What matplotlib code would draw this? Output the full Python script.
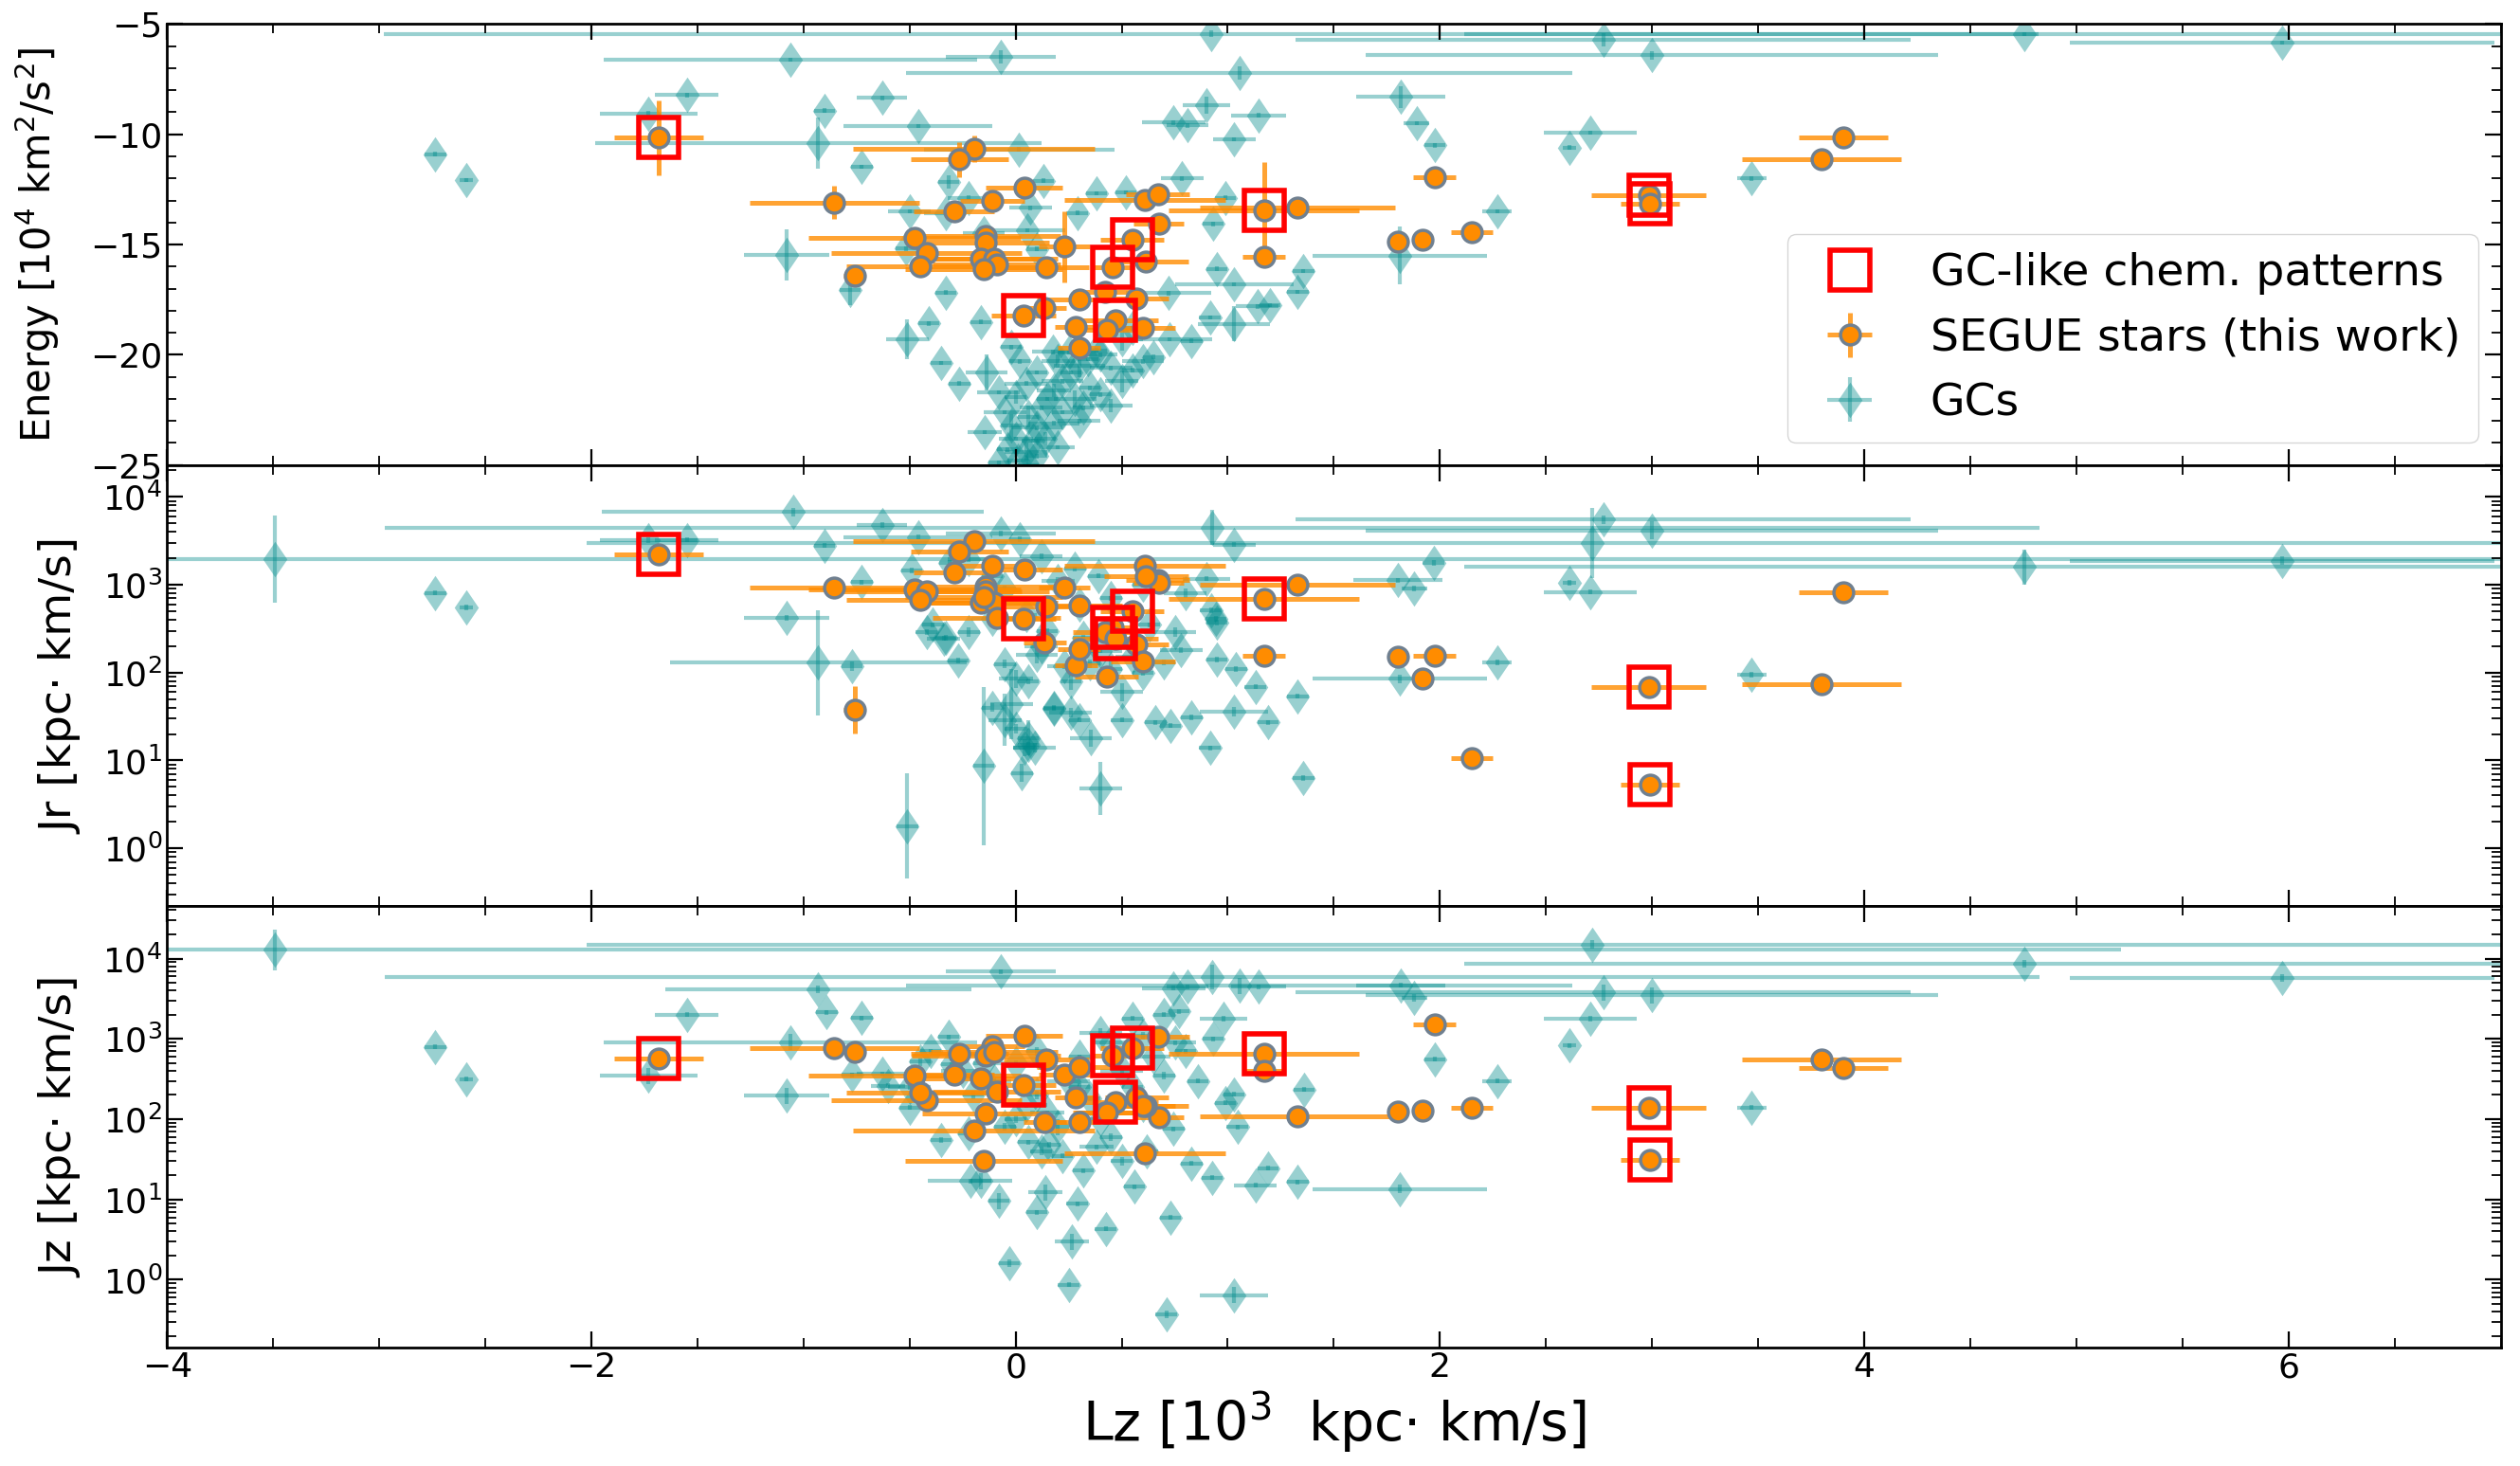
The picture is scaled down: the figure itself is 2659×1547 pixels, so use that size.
import matplotlib
matplotlib.use('Agg')
import matplotlib.pyplot as plt
import numpy as np
from matplotlib.ticker import MultipleLocator, LogLocator

# ---- SEGUE stars (this work) ----
# Lz in 10^3 kpc km/s, energy in 10^4 km^2/s^2, actions in kpc km/s
star_lz = [-1.684, -0.196, -0.265, 0.04, -0.856, -0.11, -0.29, 0.61, 0.67, 1.17,
           1.33, 0.674, -0.475, -0.14, -0.14, -0.42, -0.45, -0.165, -0.10, -0.09,
           -0.15, 0.145, 0.23, 0.55, 0.615, 0.458, -0.76, 1.17, 0.42, 0.30,
           0.57, 0.137, 0.037, 0.47, 0.285, 0.43, 0.60, 0.30, 1.974, 1.80,
           1.917, 2.15, 2.985, 2.99, 3.90, 3.80]
star_lz_err = [0.21, 0.57, 0.23, 0.18, 0.40, 0.15, 0.19, 0.38, 0.15, 0.45,
               0.46, 0.12, 0.50, 0.35, 0.30, 0.45, 0.35, 0.30, 0.30, 0.30,
               0.37, 0.20, 0.12, 0.15, 0.20, 0.10, 0.05, 0.10, 0.15, 0.20,
               0.15, 0.10, 0.15, 0.20, 0.10, 0.15, 0.15, 0.10, 0.10, 0.02,
               0.02, 0.10, 0.27, 0.14, 0.21, 0.375]
star_E = [-10.16, -10.65, -11.15, -12.4, -13.09, -13.0, -13.5, -12.96, -12.7, -13.44,
          -13.34, -14.06, -14.7, -14.63, -14.9, -15.4, -15.97, -15.64, -15.64, -15.9,
          -16.1, -16.04, -15.1, -14.8, -15.78, -16.04, -16.43, -15.57, -17.14, -17.5,
          -17.43, -17.86, -18.22, -18.43, -18.75, -18.86, -18.8, -19.68, -11.94, -14.85,
          -14.78, -14.43, -12.77, -13.13, -10.12, -11.12]
star_E_err = [1.7, 0.6, 0.8, 0.3, 0.75, 0.3, 0.4, 0.2, 0.2, 2.2,
              0.2, 0.2, 0.3, 0.4, 0.3, 0.3, 0.2, 0.2, 0.2, 0.2,
              0.2, 0.2, 1.6, 0.3, 0.2, 0.2, 0.2, 0.2, 0.2, 0.2,
              0.2, 0.2, 0.2, 0.2, 0.2, 0.2, 0.2, 0.2, 0.2, 0.1,
              0.1, 0.1, 0.2, 0.2, 0.2, 0.2]
star_jr = [2190, 3100, 2400, 1500, 920, 1640, 1370, 1660, 1130, 690,
           1000, 1050, 890, 960, 850, 850, 665, 630, 630, 420,
           720, 560, 920, 500, 1250, 330, 38, 157, 290, 575,
           210, 218, 410, 245, 120, 89, 135, 185, 155, 152,
           85, 10.5, 68, 5.3, 815, 74]
star_jr_dex = [0.06, 0.03, 0.03, 0.03, 0.03, 0.03, 0.03, 0.03, 0.03, 0.05,
               0.03, 0.03, 0.03, 0.03, 0.03, 0.03, 0.03, 0.03, 0.03, 0.03,
               0.03, 0.03, 0.03, 0.03, 0.03, 0.03, 0.27, 0.03, 0.03, 0.03,
               0.03, 0.03, 0.03, 0.03, 0.03, 0.03, 0.03, 0.03, 0.03, 0.03,
               0.03, 0.05, 0.05, 0.08, 0.03, 0.03]
star_jz = [575, 73, 645, 1090, 763, 810, 354, 38, 1070, 645,
           108, 105, 350, 620, 117, 170, 213, 325, 680, 218,
           30, 550, 363, 763, 145, 620, 680, 400, 120, 445,
           186, 91, 263, 162, 186, 120, 145, 91, 1510, 124,
           126, 138, 138, 31, 430, 550]
star_jz_dex = [0.06, 0.03, 0.06, 0.03, 0.03, 0.03, 0.03, 0.03, 0.03, 0.12,
               0.03, 0.03, 0.03, 0.03, 0.03, 0.03, 0.03, 0.03, 0.03, 0.03,
               0.03, 0.03, 0.03, 0.03, 0.03, 0.03, 0.03, 0.1, 0.03, 0.03,
               0.03, 0.03, 0.03, 0.03, 0.03, 0.03, 0.03, 0.03, 0.03, 0.03,
               0.03, 0.03, 0.03, 0.08, 0.03, 0.03]
# stars with GC-like chemical patterns
gclike_idx = [0, 9, 23, 25, 32, 33, 42, 43]

# ---- Globular clusters: energy panel ----
gc_e_lz = [0.92, 4.756, 5.97, 2.77, 3.0, 1.055, -1.06, -0.07, -1.55, -1.73,
           -0.9, -0.63, -0.46, -0.93, -0.725, 0.017, 0.90, 0.745, 0.81, 1.146,
           1.03, 1.815, 1.89, 1.975, 2.71, 2.61, 3.47, -2.735, -2.59, 2.27,
           1.81, -1.08, -0.78, -0.316, -0.22, -0.5, -0.33, 0.07, 0.13, 0.29,
           0.38, 0.52, 0.785, 0.99, 0.93, 0.054, -0.515, -0.33, -0.41, -0.51,
           0.1, 0.95, 1.03, 1.357, 1.33, 1.14, 1.2, 0.72, 0.916, 1.03,
           0.83, 0.725, -0.165, -0.35, -0.265, -0.137, -0.02, 0.176, 0.38, 0.5,
           0.6, 0.55, -0.15,
           -0.146, 0.0, -0.05, -0.02, 0.0, -0.04, 0.01, 0.05, 0.08, 0.1,
           0.06, 0.12, 0.15, 0.18, 0.22, 0.26, 0.3, 0.34, 0.4, 0.45,
           0.35, 0.28, 0.22, 0.18, 0.14, 0.1, 0.3, 0.4, 0.5, 0.55,
           0.05, 0.1, 0.2, 0.25, -0.08, 0.02, 0.65, 0.45, 0.32, 0.2,
           -0.08, 0.06]
gc_e_lz_err = [3.9, 2.64, 1.0, 1.45, 1.35, 1.57, 0.88, 0.26, 0.15, 0.23,
               0.05, 0.12, 0.35, 1.05, 0.05, 0.45, 0.11, 0.15, 0.1, 0.13,
               0.1, 0.21, 0.06, 0.05, 0.22, 0.03, 0.07, 0.05, 0.03, 0.07,
               0.41, 0.2, 0.05, 0.05, 0.1, 0.1, 0.1, 0.1, 0.05, 0.05,
               0.05, 0.05, 0.1, 0.05, 0.05, 0.18, 0.05, 0.05, 0.05, 0.1,
               0.05, 0.05, 0.28, 0.05, 0.05, 0.1, 0.05, 0.2, 0.05, 0.17,
               0.05, 0.2, 0.05, 0.05, 0.05, 0.1, 0.05, 0.1, 0.05, 0.1,
               0.1, 0.1, 0.1,
               0.08, 0.05, 0.1, 0.05, 0.08, 0.05, 0.05, 0.1, 0.05, 0.12,
               0.05, 0.1, 0.05, 0.08, 0.1, 0.05, 0.12, 0.05, 0.08, 0.1,
               0.05, 0.1, 0.05, 0.12, 0.05, 0.05, 0.1, 0.05, 0.08, 0.05,
               0.1, 0.05, 0.08, 0.05, 0.1, 0.05, 0.05, 0.1, 0.05, 0.08,
               0.05, 0.05]
gc_e = [-5.45, -5.46, -5.85, -5.7, -6.42, -7.2, -6.62, -6.5, -8.22, -9.05,
        -8.92, -8.35, -9.63, -10.4, -11.47, -10.68, -8.68, -9.47, -9.6, -9.14,
        -10.23, -8.3, -9.49, -10.5, -9.93, -10.6, -12.0, -10.9, -12.07, -13.5,
        -15.5, -15.46, -17.04, -12.17, -12.87, -13.5, -13.56, -13.34, -12.1, -13.56,
        -12.67, -12.63, -12.0, -12.87, -14.06, -14.35, -15.19, -17.17, -18.58, -19.29,
        -15.2, -16.1, -16.8, -16.2, -17.14, -17.8, -17.75, -17.2, -18.3, -18.6,
        -19.37, -19.3, -18.5, -20.37, -21.3, -20.8, -19.65, -19.87, -19.8, -19.3,
        -20.3, -18.8, -14.5,
        -23.5, -21.9, -22.6, -23.2, -23.8, -24.3, -24.8, -24.4, -23.9, -23.3,
        -22.8, -22.4, -22.0, -21.6, -21.2, -20.8, -20.5, -20.2, -20.0, -20.6,
        -21.5, -22.0, -22.6, -23.1, -23.8, -24.6, -23.0, -21.8, -21.2, -20.7,
        -21.3, -20.8, -20.3, -19.9, -21.7, -20.3, -20.1, -22.3, -22.4, -24.2,
        -24.9, -25.0]
gc_e_err = [0.15, 0.1, 0.1, 0.3, 0.2, 0.3, 0.1, 0.3, 0.1, 0.1,
            0.1, 0.1, 0.1, 1.15, 0.1, 0.1, 0.4, 0.1, 0.1, 0.1,
            0.1, 0.5, 0.1, 0.1, 0.1, 0.1, 0.1, 0.1, 0.1, 0.1,
            1.3, 1.15, 0.7, 0.3, 0.1, 0.1, 0.1, 0.1, 0.1, 0.1,
            0.1, 0.1, 0.1, 0.1, 0.1, 0.1, 0.1, 0.1, 0.1, 0.9,
            0.1, 0.1, 0.1, 0.1, 0.1, 0.1, 0.1, 0.1, 0.1, 0.8,
            0.1, 0.1, 0.1, 0.1, 0.1, 0.8, 0.1, 0.1, 0.1, 0.5,
            0.1, 0.1, 0.1,
            0.1, 0.3, 0.1, 0.5, 0.1, 0.1, 0.1, 0.4, 0.1, 0.1,
            0.5, 0.1, 0.1, 0.3, 0.1, 0.1, 0.5, 0.1, 0.1, 0.1,
            0.1, 0.4, 0.1, 0.1, 0.3, 0.1, 0.1, 0.1, 0.5, 0.1,
            0.1, 0.1, 0.3, 0.1, 0.1, 0.1, 0.1, 0.3, 0.1, 0.1,
            0.1, 0.1]

# ---- Globular clusters: Jr panel ----
gc_r_lz = [-3.49, -1.05, -1.73, -1.55, -0.63, -0.46, -0.07, 0.02, 0.925, 1.03,
           -0.9, 2.77, 3.0, 2.72, 4.756, 5.97, 2.61, 2.71, 3.47, -2.735,
           -2.59, -1.08, -0.93, -0.77, -0.725, -0.49, -0.31, -0.22, -0.11, 0.12,
           0.28, 0.39, 0.9, 1.8, 1.88, 1.97, 2.27, 1.81, -0.51, -0.15,
           0.4, 0.916, 1.357, 1.33, 1.19, 1.03, 0.83, 0.73, 0.66, 0.5,
           0.355, 0.3, 0.18, 0.04, 0.06, -0.27, -0.42, -0.33, 0.945, 1.13,
           1.04, 0.95, 0.78,
           -0.05, 0.0, 0.06, -0.02, -0.11, -0.05, 0.0, 0.06, 0.09, 0.03,
           0.18, 0.26, 0.26, 0.23, 0.35, 0.4, 0.45, 0.63, 0.75, 0.92,
           0.95, 0.55, 0.6, 0.5, 0.7, 0.12, 0.15, 0.05, -0.39, -0.34,
           -0.22, -0.11, 0.3, 0.45, 0.8, 0.6, 0.2, -0.05, 0.1, 0.32]
gc_r_lz_err = [11.0, 0.9, 0.23, 0.15, 0.12, 0.35, 0.26, 0.05, 3.9, 0.1,
               0.05, 1.45, 1.35, 4.74, 2.64, 1.0, 0.03, 0.22, 0.07, 0.05,
               0.03, 0.2, 0.7, 0.05, 0.05, 0.05, 0.05, 0.1, 0.05, 0.1,
               0.05, 0.05, 0.11, 0.21, 0.06, 0.05, 0.07, 0.41, 0.05, 0.05,
               0.1, 0.05, 0.05, 0.05, 0.05, 0.16, 0.05, 0.05, 0.05, 0.05,
               0.1, 0.05, 0.05, 0.05, 0.05, 0.05, 0.05, 0.05, 0.05, 0.05,
               0.05, 0.05, 0.1,
               0.05, 0.08, 0.05, 0.1, 0.05, 0.08, 0.05, 0.05, 0.1, 0.05,
               0.05, 0.1, 0.05, 0.08, 0.05, 0.1, 0.05, 0.05, 0.1, 0.05,
               0.05, 0.08, 0.05, 0.1, 0.05, 0.08, 0.05, 0.05, 0.05, 0.08,
               0.05, 0.1, 0.05, 0.05, 0.1, 0.05, 0.08, 0.05, 0.1, 0.05]
gc_r = [1950, 6700, 3200, 3240, 4780, 3500, 3800, 3300, 4470, 2870,
        2800, 5500, 4150, 2960, 1590, 1880, 1050, 830, 94, 810,
        550, 420, 130, 118, 1070, 1450, 1780, 1950, 1260, 2100,
        1510, 1260, 1170, 1120, 910, 1780, 130, 85, 1.8, 8.7,
        4.8, 13.8, 6.3, 54, 27, 36, 31, 25, 27, 29,
        18, 29, 39, 14, 15, 138, 290, 250, 410, 69,
        110, 140, 180,
        125, 85, 80, 44, 40, 29, 23, 18, 14, 7.2,
        40, 35, 80, 117, 126, 178, 110, 350, 290, 510,
        370, 150, 100, 60, 130, 200, 300, 450, 350, 245,
        290, 410, 600, 700, 800, 1000, 1100, 900, 160, 250]
gc_r_dex = [0.5, 0.05, 0.03, 0.03, 0.03, 0.03, 0.03, 0.03, 0.2, 0.03,
            0.03, 0.05, 0.1, 0.4, 0.2, 0.05, 0.03, 0.03, 0.03, 0.03,
            0.03, 0.03, 0.6, 0.05, 0.03, 0.03, 0.03, 0.03, 0.03, 0.03,
            0.03, 0.03, 0.03, 0.03, 0.03, 0.03, 0.03, 0.05, 0.6, 0.9,
            0.3, 0.03, 0.03, 0.03, 0.03, 0.05, 0.03, 0.03, 0.03, 0.03,
            0.1, 0.03, 0.03, 0.1, 0.03, 0.03, 0.03, 0.03, 0.03, 0.03,
            0.03, 0.03, 0.03,
            0.05, 0.1, 0.03, 0.4, 0.05, 0.3, 0.05, 0.2, 0.05, 0.1,
            0.03, 0.05, 0.1, 0.03, 0.05, 0.03, 0.1, 0.03, 0.05, 0.03,
            0.03, 0.05, 0.03, 0.1, 0.03, 0.05, 0.03, 0.05, 0.03, 0.03,
            0.05, 0.03, 0.05, 0.03, 0.05, 0.03, 0.05, 0.03, 0.1, 0.03]

# ---- Globular clusters: Jz panel ----
gc_z_lz = [-3.49, 2.72, 0.925, -0.07, -0.93, -0.89, -1.55, -1.06, -1.73, -2.735,
           -2.59, -1.08, 1.055, 0.745, 0.81, 1.146, 1.815, 1.88, 0.77, 0.98,
           0.93, 1.975, 2.27, 1.36, 1.81, 4.756, 5.97, 2.77, 3.0, 2.71,
           2.61, 3.47, -0.725, -0.77, -0.63, -0.316, -0.4, -0.5, -0.5, -0.35,
           -0.22, -0.215, -0.165, -0.08, -0.03, 0.10, 0.14, 0.29, 0.25, 0.265,
           0.424, 1.03, 0.71, 0.73, 0.56, 0.83, 0.925, 1.13, 1.19, 1.33,
           1.045, 0.86, 1.03, 0.99, 0.745, 0.32, 0.16, 0.06,
           0.0, 0.05, 0.1, 0.15, 0.2, 0.25, 0.3, 0.35, 0.4, 0.45,
           0.5, 0.55, 0.6, 0.65, 0.7, 0.75, 0.8, -0.05, -0.1, -0.15,
           -0.2, -0.25, 0.12, 0.22, 0.38, 0.5, 0.62, 0.0, 0.1, 0.3,
           0.45, 0.6, 0.55, 0.4, 0.7, -0.3, -0.45, -0.6]
gc_z_lz_err = [8.7, 4.74, 3.9, 0.26, 0.72, 0.05, 0.15, 0.88, 0.23, 0.05,
               0.03, 0.2, 1.57, 0.15, 0.1, 0.13, 0.21, 0.06, 0.05, 0.11,
               0.05, 0.05, 0.07, 0.05, 0.41, 2.64, 1.0, 1.45, 1.35, 0.22,
               0.03, 0.07, 0.05, 0.05, 0.12, 0.05, 0.05, 0.1, 0.05, 0.05,
               0.05, 0.2, 0.05, 0.05, 0.05, 0.05, 0.08, 0.05, 0.05, 0.08,
               0.05, 0.16, 0.05, 0.05, 0.05, 0.05, 0.05, 0.1, 0.05, 0.05,
               0.05, 0.05, 0.05, 0.05, 0.05, 0.05, 0.05, 0.05,
               0.05, 0.1, 0.05, 0.08, 0.05, 0.1, 0.05, 0.05, 0.08, 0.05,
               0.1, 0.05, 0.05, 0.08, 0.05, 0.1, 0.05, 0.05, 0.08, 0.05,
               0.05, 0.1, 0.05, 0.05, 0.08, 0.05, 0.05, 0.1, 0.05, 0.05,
               0.08, 0.05, 0.05, 0.1, 0.05, 0.05, 0.05, 0.08]
gc_z = [12800, 15000, 5900, 6900, 4150, 2140, 2000, 910, 345, 790,
        316, 196, 4600, 4260, 4470, 4470, 4650, 3250, 2190, 1780,
        1000, 560, 300, 235, 13.5, 8600, 5700, 3800, 3500, 1780,
        830, 140, 1820, 355, 365, 1050, 700, 250, 140, 55,
        66, 17, 17, 9.6, 1.6, 6.9, 12.3, 8.8, 0.87, 3.0,
        4.3, 0.64, 0.37, 6.0, 14.5, 28, 18.6, 15, 24.5, 16.6,
        80, 300, 205, 160, 76, 23, 48, 52,
        100, 150, 200, 120, 80, 300, 250, 180, 100, 60,
        400, 250, 150, 600, 350, 900, 700, 80, 300, 500,
        200, 400, 40, 35, 45, 30, 40, 500, 700, 600,
        900, 1100, 1800, 1200, 2000, 480, 520, 260]
gc_z_dex = [0.25, 0.05, 0.15, 0.03, 0.05, 0.03, 0.03, 0.1, 0.1, 0.03,
            0.03, 0.1, 0.1, 0.03, 0.03, 0.03, 0.03, 0.05, 0.03, 0.03,
            0.03, 0.03, 0.03, 0.03, 0.05, 0.05, 0.05, 0.1, 0.1, 0.03,
            0.03, 0.03, 0.03, 0.03, 0.03, 0.03, 0.03, 0.03, 0.03, 0.03,
            0.03, 0.03, 0.1, 0.1, 0.05, 0.03, 0.1, 0.03, 0.03, 0.1,
            0.03, 0.1, 0.05, 0.03, 0.03, 0.03, 0.03, 0.03, 0.03, 0.03,
            0.03, 0.03, 0.03, 0.03, 0.03, 0.03, 0.03, 0.03,
            0.05, 0.03, 0.05, 0.03, 0.1, 0.03, 0.05, 0.03, 0.03, 0.05,
            0.03, 0.05, 0.03, 0.03, 0.05, 0.03, 0.03, 0.05, 0.03, 0.03,
            0.05, 0.03, 0.05, 0.03, 0.03, 0.05, 0.03, 0.03, 0.05, 0.03,
            0.03, 0.05, 0.03, 0.05, 0.03, 0.03, 0.05, 0.03]


def log_err(vals, dex):
    v = np.asarray(vals, dtype=float)
    d = np.asarray(dex, dtype=float)
    return [v - v / 10**d, v * 10**d - v]


fig, axes = plt.subplots(3, 1, sharex=True, figsize=(26.59, 15.47), dpi=100)
fig.subplots_adjust(left=0.0663, right=0.9923, top=0.9836, bottom=0.0811, hspace=0)

# a slightly wider diamond than matplotlib's 'd'
diamond = [(0, 1), (0.68, 0), (0, -1), (-0.68, 0), (0, 1)]

gc_kw = dict(fmt='none', ecolor='darkcyan', alpha=0.4, elinewidth=3,
             capsize=0, zorder=1)
gc_mk = dict(marker=diamond, ls='none', color='darkcyan', alpha=0.4, ms=27,
             mew=0, zorder=1)
st_kw = dict(fmt='o', mfc='darkorange', mec='slategray', mew=2.5, ms=15,
             ecolor=(1.0, 0.55, 0.0, 0.8), elinewidth=3.6, capsize=0, zorder=2,
             label='SEGUE stars (this work)')
sq_kw = dict(marker='s', ls='none', mfc='none', mec='red', mew=4, ms=30,
             zorder=3, label='GC-like chem. patterns')

star_lz_a = np.array(star_lz)


def draw_gcs(ax, x, xe, y, ye):
    eb = ax.errorbar(x, y, xerr=xe, yerr=ye, **gc_kw)
    ln, = ax.plot(x, y, **gc_mk)
    return (ln, eb)


# energy
ax = axes[0]
h_gc = draw_gcs(ax, gc_e_lz, gc_e_lz_err, gc_e, gc_e_err)
h_st = ax.errorbar(star_lz, star_E, xerr=star_lz_err, yerr=star_E_err, **st_kw)
h_sq, = ax.plot(star_lz_a[gclike_idx], np.array(star_E)[gclike_idx], **sq_kw)
ax.set_ylim(-25, -5)
ax.yaxis.set_major_locator(MultipleLocator(5))
ax.yaxis.set_minor_locator(MultipleLocator(1))
ax.set_ylabel('Energy [10$^4$ km$^2$/s$^2$]', fontsize=30, labelpad=22)

gc_handle = ax.errorbar([], [], xerr=[], yerr=[], fmt='none', ecolor='darkcyan',
                        alpha=0.4, elinewidth=3)
ax.legend([h_sq, h_st, (gc_handle, h_gc[0])],
          ['GC-like chem. patterns', 'SEGUE stars (this work)', 'GCs'],
          loc='lower right', fontsize=34)

# Jr
ax = axes[1]
draw_gcs(ax, gc_r_lz, gc_r_lz_err, gc_r, log_err(gc_r, gc_r_dex))
ax.errorbar(star_lz, star_jr, xerr=star_lz_err, yerr=log_err(star_jr, star_jr_dex), **st_kw)
ax.plot(star_lz_a[gclike_idx], np.array(star_jr)[gclike_idx], **sq_kw)
ax.set_yscale('log')
ax.set_ylim(0.22, 2.3e4)
ax.set_ylabel('Jr [kpc· km/s]', fontsize=34, labelpad=15)

# Jz
ax = axes[2]
draw_gcs(ax, gc_z_lz, gc_z_lz_err, gc_z, log_err(gc_z, gc_z_dex))
ax.errorbar(star_lz, star_jz, xerr=star_lz_err, yerr=log_err(star_jz, star_jz_dex), **st_kw)
ax.plot(star_lz_a[gclike_idx], np.array(star_jz)[gclike_idx], **sq_kw)
ax.set_yscale('log')
ax.set_ylim(0.145, 4.5e4)
ax.set_ylabel('Jz [kpc· km/s]', fontsize=34, labelpad=15)
ax.set_xlabel('Lz [10$^3$  kpc· km/s]', fontsize=41)

for ax in axes:
    ax.set_xlim(-4, 7)
    ax.xaxis.set_major_locator(MultipleLocator(2))
    ax.xaxis.set_minor_locator(MultipleLocator(0.5))
    if ax.get_yscale() == 'log':
        ax.yaxis.set_major_locator(LogLocator(base=10, numticks=12))
        ax.yaxis.set_minor_locator(LogLocator(base=10, subs=np.arange(2, 10), numticks=12))
    ax.tick_params(which='both', direction='in', top=True, right=True, labelsize=26)
    ax.tick_params(which='major', length=12, width=1.6)
    ax.tick_params(which='minor', length=7, width=1.3)
    for s in ax.spines.values():
        s.set_linewidth(2)

fig.savefig('out.png', dpi=100)
